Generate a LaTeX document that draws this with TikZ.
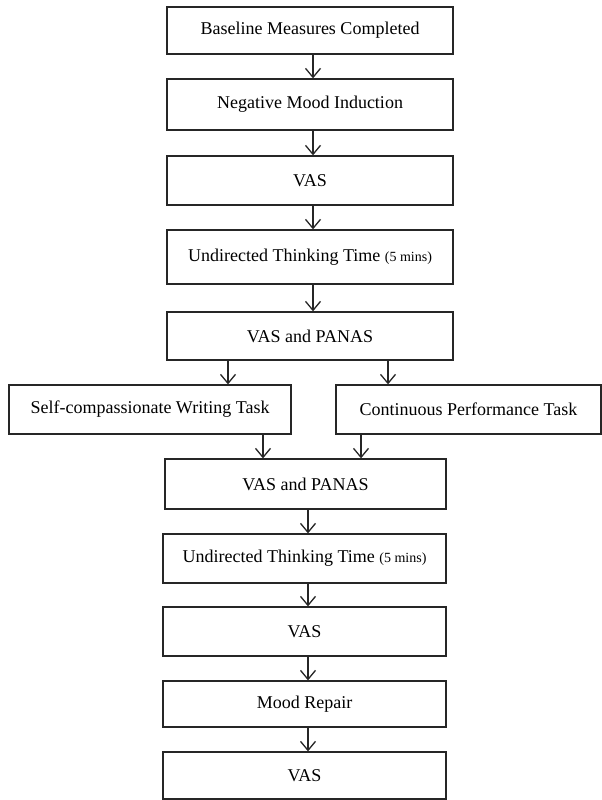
\documentclass[tikz,border=0pt]{standalone}
\usepackage{fontspec}
\setmainfont{Liberation Serif}
\usetikzlibrary{arrows.meta}
\begin{document}
\begin{tikzpicture}[x=1pt,y=-1pt,
  box/.style={draw=black!85, line width=1.3pt, inner sep=0pt, font=\fontsize{18}{20}\selectfont},
  arr/.style={draw=black!85, line width=1.3pt, -{Straight Barb[length=9pt,width=15pt,line width=1.3pt]}}]
\useasboundingbox (0,0) rectangle (602,800);
\newcommand{\sm}[1]{{\fontsize{14}{16}\selectfont #1}}
\node[box, minimum width=286pt, minimum height=47pt] (b1) at (310,30.5) {Baseline Measures Completed};
\node[box, minimum width=286pt, minimum height=51pt] (b2) at (310,104.5) {Negative Mood Induction};
\node[box, minimum width=286pt, minimum height=49pt] (b3) at (310,180.5) {VAS};
\node[box, minimum width=286pt, minimum height=54pt] (b4) at (310,257) {Undirected Thinking Time \sm{(5 mins)}};
\node[box, minimum width=286pt, minimum height=48pt] (b5) at (310,336) {VAS and PANAS};
\node[box, minimum width=282pt, minimum height=49pt] (b6) at (150,409.5) {Self-compassionate Writing Task};
\node[box, minimum width=265pt, minimum height=49pt] (b7) at (468.5,409.5) {Continuous Performance Task};
\node[box, minimum width=281pt, minimum height=50pt] (b8) at (305.5,484) {VAS and PANAS};
\node[box, minimum width=283pt, minimum height=49pt] (b9) at (304.5,558.5) {Undirected Thinking Time \sm{(5 mins)}};
\node[box, minimum width=283pt, minimum height=49pt] (b10) at (304.5,631.5) {VAS};
\node[box, minimum width=283pt, minimum height=46pt] (b11) at (304.5,704) {Mood Repair};
\node[box, minimum width=283pt, minimum height=47pt] (b12) at (304.5,775.5) {VAS};
\coordinate (u) at (313,0);
\coordinate (l) at (308,0);
\coordinate (s1) at (228,0);
\coordinate (s2) at (388,0);
\coordinate (m1) at (263,0);
\coordinate (m2) at (361,0);
\draw[arr] (b1.south -| u) -- (b2.north -| u);
\draw[arr] (b2.south -| u) -- (b3.north -| u);
\draw[arr] (b3.south -| u) -- (b4.north -| u);
\draw[arr] (b4.south -| u) -- (b5.north -| u);
\draw[arr] (b5.south -| s1) -- (b6.north -| s1);
\draw[arr] (b5.south -| s2) -- (b7.north -| s2);
\draw[arr] (b6.south -| m1) -- (b8.north -| m1);
\draw[arr] (b7.south -| m2) -- (b8.north -| m2);
\draw[arr] (b8.south -| l) -- (b9.north -| l);
\draw[arr] (b9.south -| l) -- (b10.north -| l);
\draw[arr] (b10.south -| l) -- (b11.north -| l);
\draw[arr] (b11.south -| l) -- (b12.north -| l);
\end{tikzpicture}
\end{document}
